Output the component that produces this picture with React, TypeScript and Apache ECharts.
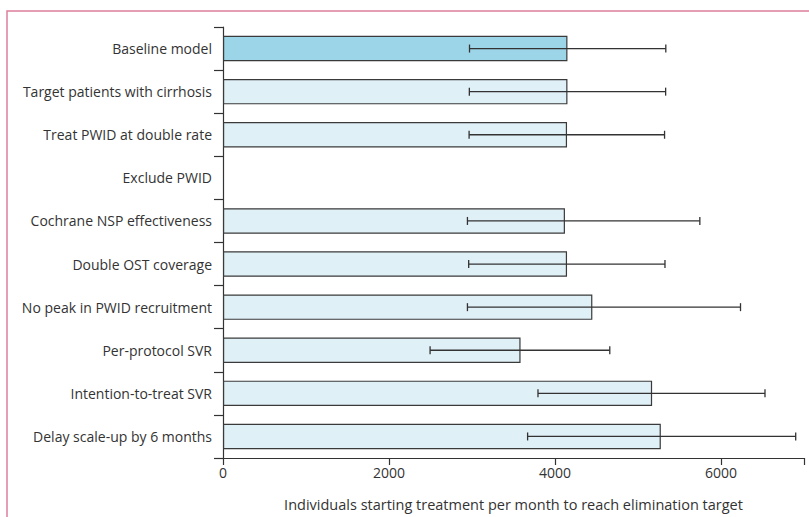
import React, { useEffect, useRef } from "react";
import * as echarts from "echarts";

const categories = [
  "Baseline model",
  "Target patients with cirrhosis",
  "Treat PWID at double rate",
  "Exclude PWID",
  "Cochrane NSP effectiveness",
  "Double OST coverage",
  "No peak in PWID recruitment",
  "Per-protocol SVR",
  "Intention-to-treat SVR",
  "Delay scale-up by 6 months",
];
const values: (number | null)[] = [4150, 4150, 4145, null, 4120, 4145, 4450, 3585, 5170, 5275];
const lower: (number | null)[] = [2970, 2968, 2965, null, 2945, 2960, 2945, 2495, 3795, 3670];
const upper: (number | null)[] = [5335, 5333, 5320, null, 5745, 5325, 6235, 4660, 6530, 6900];
const xTicks = [0, 2000, 4000, 6000];
const xMax = 7000;
const xTitle = "Individuals starting treatment per month to reach elimination target";

const FONT = "'Open Sans', sans-serif";
const TEXT = "#333333";
const LINE = "#333333";

export default function App() {
  const ref = useRef<HTMLDivElement>(null);
  useEffect(() => {
    if (!ref.current) return;
    const chart = echarts.init(ref.current, null, { renderer: "svg" });
    const barData = values.map((v, i) => ({
      value: v,
      itemStyle: {
        color: i === 0 ? "#9dd5e8" : "#e0f0f7",
        borderColor: "#3a3a3a",
        borderWidth: 1.2,
      },
    }));
    const errData = categories.map((_, i) =>
      lower[i] == null ? [i, null, null] : [i, lower[i], upper[i]]
    );
    chart.setOption({
      animation: false,
      textStyle: { fontFamily: FONT },
      graphic: [
        {
          type: "rect",
          shape: { x: 7, y: 11, width: 900, height: 700 },
          style: { fill: "none", stroke: "#dd7f9b", lineWidth: 1.5 },
          silent: true,
        },
      ],
      grid: { left: 223, right: 5, top: 27, bottom: 56 },
      xAxis: {
        type: "value",
        min: 0,
        max: xMax,
        interval: 2000,
        splitLine: { show: false },
        axisLine: { show: true, lineStyle: { color: LINE, width: 1.2 } },
        axisTick: { show: true, length: 7, lineStyle: { color: LINE, width: 1.2 } },
        axisLabel: {
          color: TEXT,
          fontSize: 14,
          fontFamily: FONT,
          margin: 7,
          formatter: (v: number) => (xTicks.includes(v) ? String(v) : ""),
        },
        name: xTitle,
        nameLocation: "middle",
        nameGap: 39,
        nameTextStyle: { color: TEXT, fontSize: 14.5, fontFamily: FONT },
      },
      yAxis: {
        type: "category",
        data: categories,
        inverse: true,
        axisLine: { show: true, lineStyle: { color: LINE, width: 1.2 } },
        axisTick: { show: true, length: 9, lineStyle: { color: LINE, width: 1.2 } },
        axisLabel: { color: TEXT, fontSize: 14, fontFamily: FONT, margin: 11 },
      },
      series: [
        {
          type: "bar",
          data: barData,
          barCategoryGap: "41%",
        },
        {
          type: "custom",
          data: errData,
          encode: { x: [1, 2], y: 0 },
          renderItem: (params: any, api: any) => {
            const lo = api.value(1);
            const hi = api.value(2);
            if (lo == null || hi == null || isNaN(lo) || isNaN(hi)) return null;
            const idx = api.value(0);
            const p1 = api.coord([lo, idx]);
            const p2 = api.coord([hi, idx]);
            const cap = 4;
            const style = { stroke: LINE, lineWidth: 1.3 };
            return {
              type: "group",
              children: [
                { type: "line", shape: { x1: p1[0], y1: p1[1], x2: p2[0], y2: p2[1] }, style },
                { type: "line", shape: { x1: p1[0], y1: p1[1] - cap, x2: p1[0], y2: p1[1] + cap }, style },
                { type: "line", shape: { x1: p2[0], y1: p2[1] - cap, x2: p2[0], y2: p2[1] + cap }, style },
              ],
            };
          },
          z: 10,
        },
      ],
    });
    return () => chart.dispose();
  }, []);
  return (
    <div
      ref={ref}
      style={{ position: "absolute", left: 0, top: 0, width: 809, height: 517, background: "#fff" }}
    />
  );
}
